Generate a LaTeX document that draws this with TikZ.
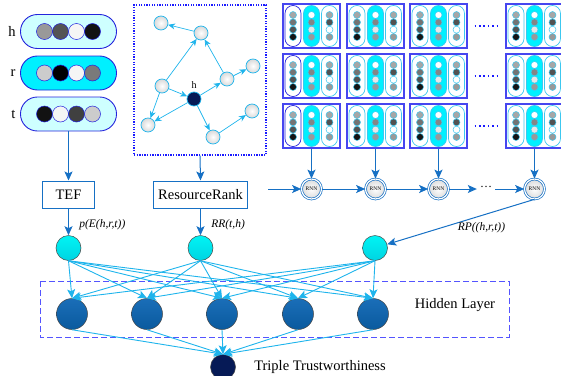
\documentclass[tikz,border=0pt]{standalone}
\usepackage{fontspec}
\setmainfont{Liberation Serif}
\usetikzlibrary{calc,positioning,arrows.meta}

\definecolor{flowblue}{RGB}{22,112,196}
\definecolor{netcyan}{RGB}{30,180,236}
\definecolor{pillline}{RGB}{36,36,220}
\definecolor{palecyan}{RGB}{206,255,255}
\definecolor{brightcyan}{RGB}{0,240,255}
\definecolor{gridline}{RGB}{70,70,240}
\definecolor{dotblue}{RGB}{26,26,255}
\definecolor{cellcyan}{RGB}{60,200,240}
\definecolor{incyan}{RGB}{0,244,244}
\definecolor{incyandark}{RGB}{0,212,226}
\definecolor{hidtop}{RGB}{26,110,184}
\definecolor{hidbot}{RGB}{10,90,158}
\definecolor{deepnavy}{RGB}{6,26,86}
\definecolor{rimgray}{RGB}{70,70,70}
\definecolor{layerblue}{RGB}{84,84,255}

\begin{document}
\begin{tikzpicture}[x=1pt,y=-1pt,
	bigtext/.style={font=\fontsize{14.5}{17}\selectfont},
	lbl/.style={text=black,font=\fontsize{11.5}{13}\selectfont\itshape},
	pill/.style={draw=pillline,line width=0.9pt,rounded corners=16.9pt,minimum width=96pt,minimum height=34pt,inner sep=0pt},
	bead/.style={circle,draw=pillline,line width=0.5pt,minimum size=16pt,inner sep=0pt},
	gridbox/.style={draw=gridline,line width=1.1pt,fill=white,minimum width=57pt,minimum height=44pt,inner sep=0pt},
	cellpill/.style={draw=cellcyan,line width=0.7pt,rounded corners=7.9pt,minimum width=16pt,minimum height=41pt,inner sep=0pt},
	cellbead/.style={circle,draw=cellcyan,line width=0.5pt,minimum size=7pt,inner sep=0pt},
	griddots/.style={dotblue,line width=1.6pt,dash pattern=on 1.6pt off 2.8pt},
	graphbox/.style={draw=dotblue,line width=1.3pt,dash pattern=on 1.3pt off 1.3pt,minimum width=132pt,minimum height=150pt,inner sep=0pt},
	gnode/.style={circle,draw=netcyan,line width=0.7pt,minimum size=14pt,inner sep=0pt,inner color=white,outer color=black!15},
	hnode/.style={circle,draw=netcyan,line width=0.7pt,minimum size=14pt,inner sep=0pt,fill=deepnavy},
	garrow/.style={netcyan,line width=0.7pt,-{Stealth[length=7pt,width=6pt]}},
	procbox/.style={draw=flowblue,line width=1pt,fill=white,minimum width=52pt,minimum height=27pt,inner xsep=4.5pt,bigtext},
	flow/.style={flowblue,line width=1pt,-{Stealth[length=9pt,width=8pt,inset=2pt]}},
	rnn/.style={circle,draw=flowblue,double=white,double distance=1.2pt,line width=0.7pt,minimum size=20pt,inner sep=0pt,inner color=white,outer color=black!14,font=\fontsize{5.5}{6}\selectfont},
	innode/.style={circle,draw=rimgray,line width=0.5pt,minimum size=25pt,inner sep=0pt,top color=incyan,bottom color=incyandark},
	hidnode/.style={circle,draw=rimgray,line width=0.5pt,minimum size=31pt,inner sep=0pt,top color=hidtop,bottom color=hidbot},
	outnode/.style={circle,draw=rimgray,line width=0.5pt,minimum size=25pt,inner sep=0pt,fill=deepnavy},
	netarrow/.style={netcyan,line width=0.9pt,-{Stealth[length=9pt,width=8pt,inset=2pt]}},
	hidbox/.style={draw=layerblue,line width=0.8pt,dash pattern=on 6pt off 3pt}]
	\useasboundingbox (0,0) rectangle (561,375);

	% h, r, t embeddings
	\node[pill,fill=palecyan] (ph) at (68.5,31.5) {};
	\node[pill,fill=brightcyan] (pr) at (68.5,73) {};
	\node[pill,fill=palecyan] (pt) at (68.5,114) {};
	\foreach \e/\shades in {h/{black!40,black!67,black!4,black!93},r/{black!20,black,black!4,black!52},t/{black!93,black!4,black!75,black!20}}{
		\node[bigtext,left=1pt of p\e] (l\e) {\e};
		\foreach \s [count=\k] in \shades
			\node[bead,fill=\s] (p\e\k) at ($(p\e)+(-40+16*\k,0)$) {};
	}

	% resource graph
	\node[graphbox] (gbox) at (200,80) {};
	\node[gnode] (ga) at (161,23) {};
	\node[gnode] (gb) at (201,33) {};
	\node[gnode] (gc) at (162,86) {};
	\node[hnode] (gh) at (194,99) {};
	\node[font=\fontsize{10}{11}\selectfont,above=0pt of gh] (ghl) {h};
	\node[gnode] (gd) at (227,79) {};
	\node[gnode] (ge) at (253,66) {};
	\node[gnode] (gf) at (148,125) {};
	\node[gnode] (gg) at (213,137) {};
	\node[gnode] (gi) at (252,111) {};
	\foreach \a/\b in {gb/ga,gc/gb,gd/gb,gc/gh,gc/gf,gh/gf,gh/gd,gh/gg,gd/ge,gg/gi}
		\draw[garrow] (\a) -- (\b);

	% reachable paths
	\foreach \col/\gx/\rim in {1/311.5/pillline,2/375.5/cellcyan,3/438.5/cellcyan,4/534.5/cellcyan}{
		\foreach \row/\gy in {1/26,2/76,3/126}{
			\node[gridbox] (g\col\row) at (\gx,\gy) {};
			\node[cellpill,draw=\rim,fill=white] (g\col\row a) at ($(g\col\row)+(-18.5,0)$) {};
			\node[cellpill,fill=brightcyan] (g\col\row b) at (g\col\row) {};
			\node[cellpill,fill=white] (g\col\row c) at ($(g\col\row)+(18,0)$) {};
			\foreach \p/\shades in {a/{black!35,black!55,black!68,black!92},b/{white,black!48,black!9,black!40},c/{black!35,black!68,white,black!40}}{
				\foreach \s [count=\k] in \shades
					\node[cellbead,fill=\s] (g\col\row\p\k) at ($(g\col\row\p)+(0,-18.33+7.33*\k)$) {};
			}
		}
	}
	\foreach \row in {1,2,3}
		\draw[griddots] ($(g3\row.east)+(7,0)$) -- ($(g4\row.west)+(-5,0)$);

	% RNN chain
	\coordinate (rnnrow) at (0,189);
	\coordinate (rin) at (268,189);
	\foreach \col in {1,...,4}{
		\node[rnn] (rnn\col) at (g\col3 |- rnnrow) {RNN};
		\draw[flow] (g\col3.south) -- (rnn\col.north);
	}
	\node[font=\fontsize{12}{13}\selectfont,inner sep=3pt] (rdots) at (486,187) {\dots};
	\draw[flow] (rin) -- (rnn1);
	\draw[flow] (rnn1) -- (rnn2);
	\draw[flow] (rnn2) -- (rnn3);
	\draw[flow] (rnn3) -- (rdots.west |- rnnrow);
	\draw[flow] (rdots.east |- rnnrow) -- (rnn4);

	% features
	\coordinate (inrow) at (0,248);
	\node[procbox] (tef) at (68.5,194.5) {TEF};
	\node[procbox] (rr) at (200.5,194.5) {ResourceRank};
	\node[innode] (in1) at (tef |- inrow) {};
	\node[innode] (in2) at (rr |- inrow) {};
	\node[innode] (in3) at (375,248) {};
	\draw[flow] (pt.south) -- (tef.north);
	\draw[flow] (gbox.south) -- (rr.north);
	\draw[flow] (tef) -- (in1) node[lbl,pos=0.62,right=7pt] {p(E(h,r,t))};
	\draw[flow] (rr) -- (in2) node[lbl,pos=0.62,right=7pt] {RR(t,h)};
	\draw[flow] (rnn4.south) -- (in3) node[lbl,pos=0.36,below=3pt] {RP((h,r,t))};

	% hidden layer and output
	\draw[hidbox] (40,281) rectangle (509,337);
	\foreach \x [count=\j] in {72,147,222,298,373}
		\node[hidnode] (hd\j) at (\x,314) {};
	\node[bigtext] (hl) at (455,305) {Hidden Layer};
	\node[outnode] (out) at (223,367) {};
	\node[bigtext,anchor=west] (tt) at ([xshift=15pt]out.east) {Triple Trustworthiness};
	\foreach \i in {1,2,3}
		\foreach \j in {1,...,5}
			\draw[netarrow] (in\i.south) -- (hd\j.north);
	\foreach \j in {1,...,5}
		\draw[netarrow] (hd\j.south) -- (out.north);
\end{tikzpicture}
\end{document}
